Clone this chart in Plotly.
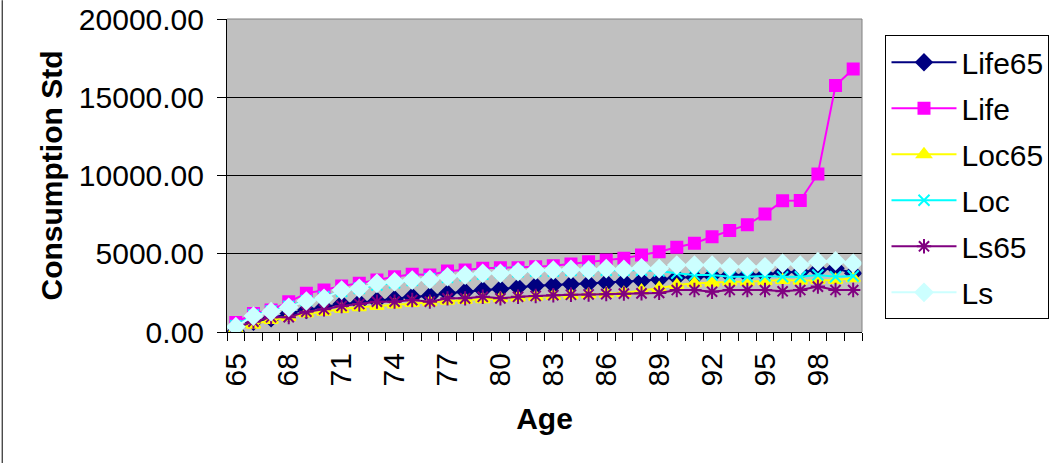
import plotly.graph_objects as go

ages = list(range(65, 101))
age_labels = [str(a) for a in range(65, 99, 3)]

life65 = [50, 650, 870, 1190, 1400, 1580, 1790, 1870, 2000, 2090,
          2250, 2300, 2470, 2575, 2680, 2750, 2860, 2950, 3000, 3050,
          3100, 3150, 3210, 3280, 3350, 3490, 3500, 3600, 3640, 3640,
          3680, 3810, 3830, 3960, 4070, 3750]
life = [600, 1190, 1400, 1940, 2470, 2680, 2940, 3110, 3320, 3530,
        3690, 3650, 3900, 3960, 4070, 4100, 4110, 4170, 4240, 4350,
        4490, 4600, 4710, 4920, 5130, 5410, 5670, 6090, 6490, 6860,
        7540, 8380, 8400, 10100, 15750, 16800]
loc65 = [200, 470, 770, 940, 1190, 1300, 1470, 1580, 1660, 1750,
         1850, 1900, 2000, 2050, 2100, 2150, 2200, 2250, 2300, 2350,
         2400, 2450, 2500, 2650, 2800, 3000, 3110, 3150, 3210, 3210,
         3250, 3320, 3280, 3320, 3330, 3430]
loc = [400, 1100, 1350, 1650, 2000, 2250, 2600, 2800, 3000, 3150,
       3300, 3400, 3500, 3600, 3700, 3800, 3850, 3900, 3900, 3950,
       3950, 3950, 3950, 3950, 3900, 3750, 3650, 3640, 3530, 3530,
       3580, 3530, 3530, 3640, 3530, 3580]
ls65 = [300, 660, 940, 950, 1300, 1450, 1660, 1790, 1940, 1940,
        2040, 1940, 2150, 2150, 2250, 2150, 2250, 2300, 2350, 2380,
        2400, 2420, 2450, 2470, 2500, 2680, 2680, 2575, 2680, 2680,
        2680, 2600, 2680, 2900, 2680, 2680]
ls = [340, 1020, 1300, 1580, 1980, 2150, 2680, 2790, 3110, 3210,
      3320, 3360, 3530, 3640, 3750, 3750, 3850, 3950, 3950, 4000,
      3950, 4050, 4000, 4100, 4050, 4280, 4280, 4280, 4170, 4170,
      4170, 4390, 4280, 4490, 4540, 4390]

series = [
    ("Life65", life65, "#000080", "diamond", 12),
    ("Life", life, "#FF00FF", "square", 11),
    ("Loc65", loc65, "#FFFF00", "triangle-up", 12),
    ("Loc", loc, "#00FFFF", "x-thin", 11),
    ("Ls65", ls65, "#800080", "asterisk", 12),
    ("Ls", ls, "#CCFFFF", "diamond", 13),
]

fig = go.Figure()
for name, vals, col, sym, sz in series:
    fig.add_trace(go.Scatter(
        x=ages, y=vals, name=name, mode="lines+markers",
        legendgroup=name,
        line=dict(color=col, width=2),
        marker=dict(symbol=sym, size=sz, color=col,
                    line=dict(color=col, width=2)),
    ))

fig.update_layout(
    width=1049, height=463,
    margin=dict(l=227, r=187, t=19, b=131, autoexpand=False),
    paper_bgcolor="white",
    plot_bgcolor="#C0C0C0",
    font=dict(family="Liberation Sans, Arial, sans-serif", size=30, color="black"),
    legend=dict(
        x=1.037, y=0.948, xanchor="left", yanchor="top",
        bordercolor="black", borderwidth=1, bgcolor="white",
        traceorder="grouped", tracegroupgap=4, itemwidth=65,
        font=dict(size=30),
    ),
    showlegend=True,
)

fig.update_xaxes(
    range=[64.5, 100.5], automargin=False,
    tickmode="array", tickvals=[int(a) for a in age_labels], ticktext=age_labels,
    ticks="", tickangle=-90, ticklabelstandoff=8,
    showgrid=False, zeroline=False,
    showline=True, linecolor="black", linewidth=1,
    minor=dict(tickmode="linear", tick0=64.5, dtick=1, ticks="outside",
               ticklen=8, tickcolor="black", showgrid=False),
    title=dict(text="<b>Age</b>", standoff=22, font=dict(size=30)),
)
fig.update_yaxes(
    range=[0, 20000], dtick=5000, tickformat=".2f", automargin=False,
    ticks="outside", ticklen=9, tickcolor="black", ticklabelstandoff=7,
    showgrid=True, gridcolor="black", gridwidth=1,
    zeroline=False,
    showline=True, linecolor="black", linewidth=1,
    title=dict(text="<b>Consumption Std</b>", standoff=7, font=dict(size=30)),
)

# grey border of the plot area (top and right) and chart frame on the left
fig.add_shape(type="line", xref="paper", yref="paper", x0=0, x1=1, y0=1, y1=1,
              line=dict(color="#808080", width=1))
fig.add_shape(type="line", xref="paper", yref="paper", x0=1, x1=1, y0=0, y1=1,
              line=dict(color="#808080", width=1))
fig.add_shape(type="line", xref="paper", yref="paper", x0=-0.354, x1=-0.354,
              y0=-0.42, y1=1.06, line=dict(color="black", width=1))

# drop the default 8px body margin so the figure sits at the page corner
fig.write_html("out.html", config={"displayModeBar": False},
               post_script="document.body.style.margin='0';")
